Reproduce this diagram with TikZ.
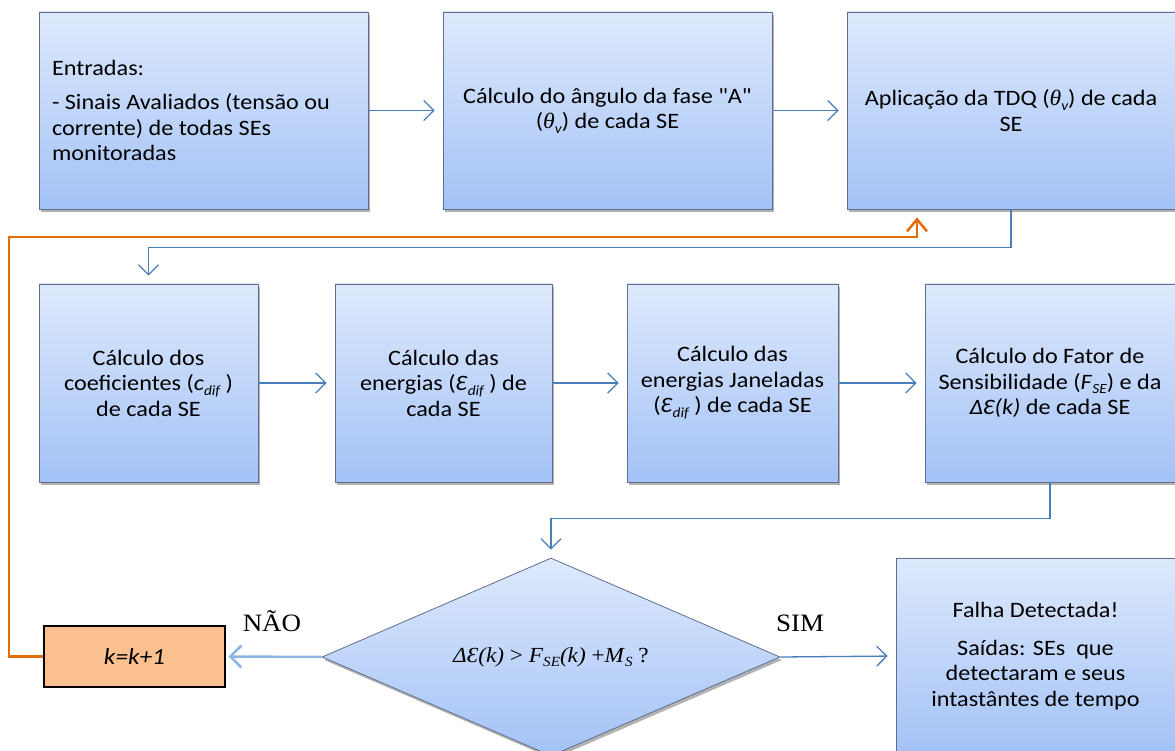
\documentclass[tikz,border=0pt]{standalone}
\usepackage{fontspec}
\setmainfont{Carlito}[FakeStretch=1.1]
\newfontfamily\cq{Carlito}[FakeStretch=1.1, Ligatures=TeXOff]
\newfontfamily\tnr{Liberation Serif}[FakeStretch=1.08]
\usetikzlibrary{arrows.meta,shapes.geometric,shadows}
\definecolor{boxtop}{RGB}{222,233,252}
\definecolor{boxbot}{RGB}{163,194,246}
\definecolor{boxline}{RGB}{95,110,140}
\definecolor{conncol}{RGB}{74,126,187}
\definecolor{naocol}{RGB}{141,180,226}
\definecolor{fbcol}{RGB}{228,108,10}
\definecolor{kfill}{RGB}{250,192,144}
\newcommand{\lo}[1]{\raisebox{-0.45ex}{\fontsize{14}{14}\selectfont #1}}
\newcommand{\thv}{{\tnr\itshape θ}}
\begin{document}
\begin{tikzpicture}[
  x=1pt,y=1pt,
  box/.style={draw=boxline, line width=0.8pt, top color=boxtop, bottom color=boxbot,
    drop shadow={shadow xshift=2pt,shadow yshift=-3pt,opacity=0.3,fill=black},
    font=\fontsize{22}{25.5}\selectfont, align=center, inner sep=6pt},
  dia/.style={diamond, draw=boxline, line width=0.8pt, top color=boxtop, bottom color=boxbot,
    drop shadow={shadow xshift=2pt,shadow yshift=-3pt,opacity=0.3,fill=black},
    minimum width=458pt, minimum height=198pt, inner sep=0pt, aspect=2.3,
    font=\tnr\fontsize{21.5}{24}\selectfont},
  kbox/.style={draw=black, line width=1.2pt, fill=kfill, minimum width=181pt, minimum height=61pt,
    font=\fontsize{23}{26}\selectfont\itshape},
  conn/.style={draw=conncol, line width=1.3pt, -{Straight Barb[length=10pt,width=20pt]}, shorten >=8pt},
  nao/.style={draw=naocol, line width=2.5pt, -{Straight Barb[length=11pt,width=22pt]}, shorten >=3pt},
  fb/.style={draw=fbcol, line width=2.5pt, -{Straight Barb[length=12pt,width=20pt]}, shorten >=8pt},
  lbl/.style={font=\tnr\fontsize{25}{28}\selectfont}
]
\path[use as bounding box, clip] (0,0) rectangle (1175,-751);

\node[box, minimum width=329pt, minimum height=197pt, text width=303pt, align=flush left] (in) at (203.5,-110.5)
  {Entradas:\\[9pt] - Sinais Avaliados (tensão ou\\ corrente) de todas SEs\\ monitoradas};
\node[box, minimum width=329pt, minimum height=197pt] (c2) at (607.5,-110.5)
  {Cálculo do ângulo da fase {\cq "A"}\\ (\thv\lo{\itshape v}) de cada SE};
\node[box, minimum width=328pt, minimum height=197pt] (c3) at (1011,-110.5)
  {Aplicação da TDQ (\thv\lo{\itshape v}) de cada\\ SE};

\node[box, minimum width=219pt, minimum height=198pt] (c4) at (148.5,-383)
  {Cálculo dos\\ coeficientes (\textit{c}\lo{\itshape dif} )\\ de cada SE};
\node[box, minimum width=217pt, minimum height=198pt] (c5) at (443.5,-383)
  {Cálculo das\\ energias (\textit{Ɛ}\lo{\itshape dif} ) de\\ cada SE};
\node[box, minimum width=211pt, minimum height=198pt] (c6) at (732.5,-383)
  {Cálculo das\\ energias Janeladas\\ (\textit{Ɛ}\lo{\itshape dif} ) de cada SE};
\node[box, minimum width=250pt, minimum height=198pt] (c7) at (1050,-383)
  {Cálculo do Fator de\\ Sensibilidade (\textit{F}\lo{\itshape SE}) e da\\ \textit{ΔƐ(k)} de cada SE};

\node[dia] (d) at (551,-657)
  {\textit{ΔƐ(k)} > \textit{F}\lo{\itshape SE}\textit{(k)} +\textit{M}\lo{\itshape S} ?};
\node[kbox] (k) at (134.5,-656.5) {k=k+1};
\node[box, minimum width=279pt, minimum height=196pt] (out) at (1035.5,-656)
  {Falha Detectada!\\[12pt] Saídas: SEs\ \ que\\ detectaram e seus\\ intastântes de tempo};

\node[lbl] (nao) at (272,-621) {NÃO};
\node[lbl] (sim) at (800,-623) {SIM};

\coordinate (fbx) at (917,0);
\coordinate (lx) at (9,-237);

\draw[conn] (in.east) -- (c2.west);
\draw[conn] (c2.east) -- (c3.west);
\draw[conn] (c3.south) -- ++(0,-38) -| (c4.north);
\draw[conn] (c4.east) -- (c5.west);
\draw[conn] (c5.east) -- (c6.west);
\draw[conn] (c6.east) -- (c7.west);
\draw[conn] (c7.south) -- ++(0,-36) -| (d.north);
\draw[conn] (d.east) -- (out.west);
\draw[nao] (d.west) -- (k.east);
\draw[fb] (k.west) -| (lx) -| (c3.south -| fbx);
\end{tikzpicture}
\end{document}
